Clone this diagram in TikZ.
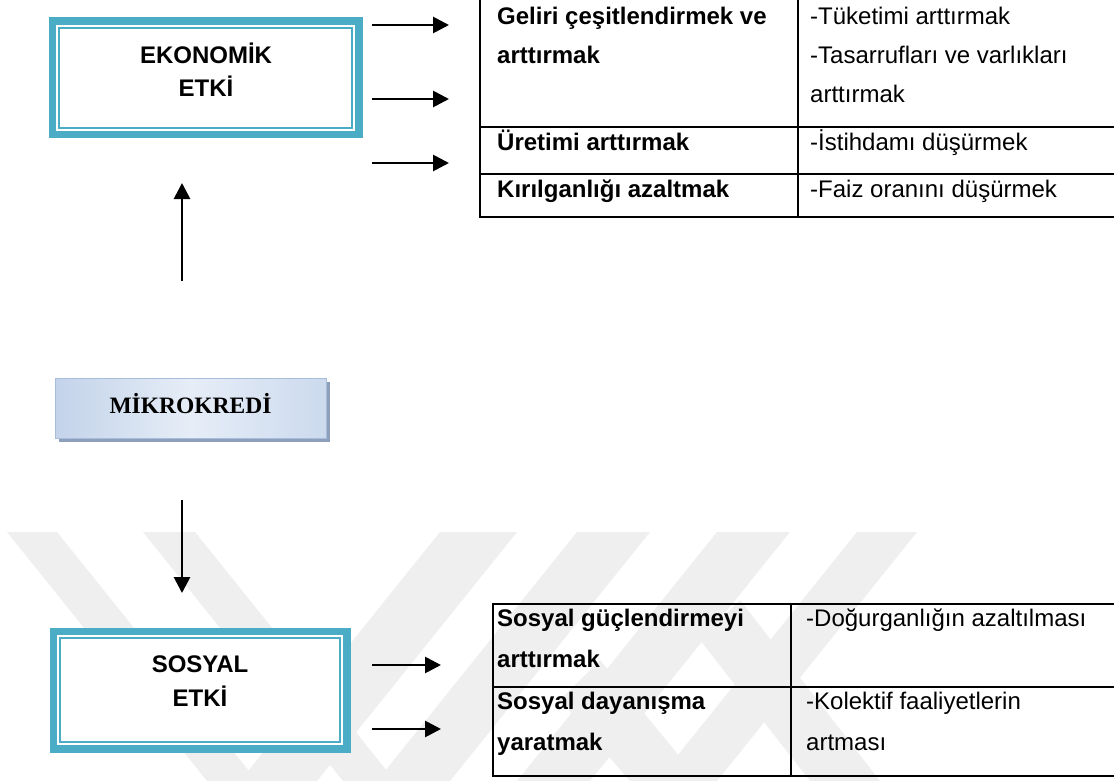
\documentclass[tikz,border=0pt]{standalone}
\usepackage{fontspec}
\setmainfont{Liberation Sans}
\newfontfamily\serifface{Liberation Serif}
\usetikzlibrary{arrows.meta}

\definecolor{frameteal}{HTML}{4BACC6}
\definecolor{wmgray}{HTML}{EFEFEF}
\definecolor{mkleft}{HTML}{C3D3EA}
\definecolor{mkmid}{HTML}{E6EDF7}
\definecolor{mkright}{HTML}{CCDAEE}
\definecolor{mkedge}{HTML}{A7BDDB}
\definecolor{mkshadow}{HTML}{8C9FBB}

\begin{document}
\begin{tikzpicture}[x=1pt,y=-1pt,
  impact/.style={draw=frameteal, line width=2pt, fill=white,
    preaction={draw=frameteal, line width=7.5pt, double=white, double distance=6pt},
    inner sep=0pt, outer sep=0pt},
  boxlabel/.style={anchor=base, inner sep=0pt, font=\bfseries\fontsize{24}{29}\selectfont},
  mkbox/.style={draw=mkedge, line width=1pt, left color=mkleft, right color=mkright,
    middle color=mkmid, minimum width=271pt, minimum height=60pt, inner sep=0pt,
    text height=15pt, text depth=5pt,
    preaction={fill=mkshadow, transform canvas={xshift=4pt, yshift=-4pt}},
    font=\serifface\bfseries\fontsize{23.5}{28}\selectfont},
  cellb/.style={anchor=base west, inner sep=0pt, font=\bfseries\fontsize{24}{29}\selectfont},
  cell/.style={anchor=base west, inner sep=0pt, font=\fontsize{24}{29}\selectfont},
  grid/.style={line width=1.8pt, line cap=rect},
  arr/.style={line width=2.8pt, -{Triangle[width=16pt,length=16pt]}}
]
\useasboundingbox (0,0) rectangle (1114,781);
\fill[white] (0,0) rectangle (1114,781);

% faint diagonal stripes in the lower half
\begin{scope}[wmgray]
  \fill (7,532) -- (57,532) -- (257,781) -- (207,781) -- cycle;
  \fill (143,532) -- (195,532) -- (395,781) -- (343,781) -- cycle;
  \fill (440,532) -- (517,532) -- (317,781) -- (240,781) -- cycle;
  \fill (577,532) -- (650,532) -- (450,781) -- (377,781) -- cycle;
  \fill (717,532) -- (790,532) -- (590,781) -- (517,781) -- cycle;
  \fill (857,532) -- (917,532) -- (717,781) -- (657,781) -- cycle;
  \fill (560,700) -- (600,660) -- (700,781) -- (630,781) -- cycle;
  \fill (700,640) -- (740,600) -- (880,781) -- (810,781) -- cycle;
\end{scope}

% economic impact box
\node[impact, minimum width=293pt, minimum height=100pt] (eko) at (205.5,78) {};
\node[boxlabel] (ekoA) at (206,63.5) {EKONOMİK};
\node[boxlabel] (ekoB) at (206,96.5) {ETKİ};

% microcredit box
\node[mkbox] (mik) at (190.5,408) {MİKROKREDİ};

% social impact box
\node[impact, minimum width=280pt, minimum height=104pt] (sos) at (200,690) {};
\node[boxlabel] (sosA) at (200,672.5) {SOSYAL};
\node[boxlabel] (sosB) at (200,706.5) {ETKİ};

% vertical arrows
\coordinate (upS) at (182,281);
\coordinate (upE) at (182,183);
\coordinate (dnS) at (182,500);
\coordinate (dnE) at (182,593);
\draw[arr] (upS) -- (upE);
\draw[arr] (dnS) -- (dnE);

% economic table
\draw[grid] (480,0) -- (480,217) -- (1114,217);
\draw[grid] (798,0) -- (798,217);
\draw[grid] (480,127) -- (1114,127);
\draw[grid] (480,174) -- (1114,174);
\node[cellb] (e1a) at (497,25) {Geliri çeşitlendirmek ve};
\node[cellb] (e1b) at (497,64) {arttırmak};
\node[cellb] (e2)  at (497,150) {Üretimi arttırmak};
\node[cellb] (e3)  at (497,197) {Kırılganlığı azaltmak};
\node[cell] (f1a) at (810,25) {-Tüketimi arttırmak};
\node[cell] (f1b) at (810,64) {-Tasarrufları ve varlıkları};
\node[cell] (f1c) at (810,103) {arttırmak};
\node[cell] (f2)  at (810,150) {-İstihdamı düşürmek};
\node[cell] (f3)  at (810,197) {-Faiz oranını düşürmek};

% arrows into the economic table
\coordinate (ea1) at (372,25);  \coordinate (eb1) at (449,25);
\coordinate (ea2) at (372,99);  \coordinate (eb2) at (449,99);
\coordinate (ea3) at (372,163); \coordinate (eb3) at (449,163);
\draw[arr] (ea1) -- (eb1);
\draw[arr] (ea2) -- (eb2);
\draw[arr] (ea3) -- (eb3);

% social table
\draw[grid] (1114,604) -- (493,604) -- (493,776) -- (1114,776);
\draw[grid] (791,604) -- (791,776);
\draw[grid] (493,687) -- (1114,687);
\node[cellb] (s1a) at (497,626) {Sosyal güçlendirmeyi};
\node[cellb] (s1b) at (497,667) {arttırmak};
\node[cellb] (s2a) at (497,709) {Sosyal dayanışma};
\node[cellb] (s2b) at (497,750) {yaratmak};
\node[cell] (r1)  at (806,626) {-Doğurganlığın azaltılması};
\node[cell] (r2a) at (806,709) {-Kolektif faaliyetlerin};
\node[cell] (r2b) at (806,750) {artması};

% arrows into the social table
\coordinate (sa1) at (372,665); \coordinate (sb1) at (441,665);
\coordinate (sa2) at (372,729); \coordinate (sb2) at (441,729);
\draw[arr] (sa1) -- (sb1);
\draw[arr] (sa2) -- (sb2);
\end{tikzpicture}
\end{document}
